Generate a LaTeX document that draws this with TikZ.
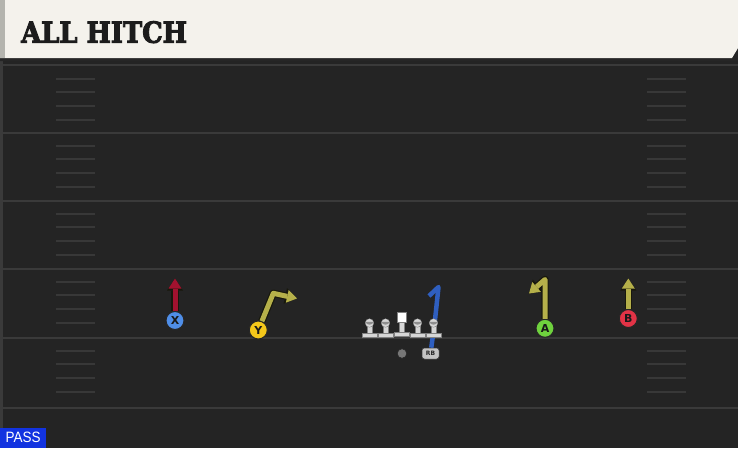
\documentclass[tikz,border=0pt]{standalone}
\usepackage{fontspec}
\usepackage{graphicx}
\setmainfont{DejaVu Sans}
\newfontfamily\titlefont[BoldFeatures={FakeBold=3.5}]{DejaVu Serif}
\newfontfamily\passfont{Liberation Sans}
\usetikzlibrary{arrows.meta}
\definecolor{field}{HTML}{242424}
\definecolor{yardc}{HTML}{3A3A3A}
\definecolor{hashc}{HTML}{383838}
\definecolor{cream}{HTML}{F4F2EC}
\definecolor{stripe}{HTML}{B4B4AE}
\definecolor{titlec}{HTML}{1C1C1C}
\definecolor{passblue}{HTML}{1233E0}
\definecolor{routeout}{HTML}{18180C}
\definecolor{olive}{HTML}{B5B04A}
\definecolor{redroute}{HTML}{A3122F}
\definecolor{blueroute}{HTML}{2F5FC0}
\definecolor{xblue}{HTML}{4F8EE8}
\definecolor{yyellow}{HTML}{F4C71A}
\definecolor{agreen}{HTML}{6FD23E}
\definecolor{bred}{HTML}{E23346}
\definecolor{lmgrey}{HTML}{D6D6D6}
\definecolor{lmdark}{HTML}{8E8E8E}
\definecolor{qbgrey}{HTML}{777777}
\definecolor{rbgrey}{HTML}{C4C4C4}
\pgfdeclarelayer{back}
\pgfdeclarelayer{routes}
\pgfsetlayers{back,routes,main}
\tikzset{
  player/.style={circle, minimum size=18pt, inner sep=0pt, draw=black!85, line width=1pt,
    font=\bfseries\fontsize{11}{11}\selectfont, text=black!90},
  yardline/.style={draw=yardc, line width=2pt},
  hashline/.style={draw=hashc, line width=2pt},
  routeback/.style={draw=routeout, line width=7.4pt, line join=round,
    -{Triangle[length=12pt,width=16pt,line width=0pt]}},
  routefront/.style={line width=5pt, line join=round,
    -{Triangle[length=10pt,width=13pt,line width=0pt]}},
  lmpart/.style={fill=lmgrey, draw=black!50, line width=0.3pt},
  lineman/.pic={
    \path[lmpart] (-7.5,14.5) rectangle (7.5,10);
    \path[lmpart] (-2.8,10.2) rectangle (2.8,3);
    \path[lmpart] (0,0) circle (4.3);
    \fill[lmdark] (-3.9,-1.2) arc (180:360:3.9 and -2.9) -- cycle;
  },
  centerman/.pic={
    \path[lmpart] (-7.5,14.5) rectangle (7.5,10);
    \path[lmpart] (-2.8,10.2) rectangle (2.8,0);
    \path[lmpart, fill=white] (-4.8,-9.5) rectangle (4.8,0);
  }
}
\begin{document}
\begin{tikzpicture}[x=1pt,y=-1pt]
\useasboundingbox (0,0) rectangle (738,448);
\begin{pgfonlayer}{back}
\fill[field] (0,0) rectangle (738,448);
\fill[yardc] (0,58) rectangle (3,448);
\foreach \yy in {65,133,201,269,338,408} \draw[yardline] (0,\yy) -- (738,\yy);
\foreach \yy in {66,133,201,269,338}{
  \foreach \dd in {13,26,40,54}{
    \draw[hashline] (56,\yy+\dd) -- (95,\yy+\dd);
    \draw[hashline] (647,\yy+\dd) -- (686,\yy+\dd);
  }
}
\fill[black!85] (0,57) -- (734,57) -- (738,50) -- (738,61) -- (0,61) -- cycle;
\fill[cream] (0,0) -- (738,0) -- (738,48) -- (732,58) -- (0,58) -- cycle;
\fill[stripe] (0,0) rectangle (5,58);
\end{pgfonlayer}

\node[anchor=base west, inner sep=0pt, text=titlec,
  font=\titlefont\bfseries\fontsize{29}{29}\selectfont] (title) at (21,42.7)
  {\scalebox{0.89}[1]{ALL HITCH}};

\node[anchor=south west, fill=passblue, text=white, minimum width=46pt, minimum height=20pt,
  inner sep=0pt, font=\passfont\fontsize{15}{15}\selectfont] (pass) at (0,448)
  {\scalebox{0.9}[1]{PASS}};

% players
\node[player, fill=xblue] (X) at (175,320.5) {X};
\node[player, fill=yyellow] (Y) at (258.3,330) {Y};
\node[player, fill=agreen] (A) at (545,328.3) {A};
\node[player, fill=bred] (B) at (628.3,318.5) {B};

% route end points
\coordinate (xend) at (175,278.5);
\coordinate (ybend) at (273.3,293.3);
\coordinate (yend) at (297,298.5);
\coordinate (atop) at (545,279.5);
\coordinate (aend) at (529,293.5);
\coordinate (bend) at (628.3,278.5);
\coordinate (rbmid) at (435,320);
\coordinate (rbtop) at (438.5,287);
\coordinate (rbhook) at (429,296);

% offensive line
\pic (lt) at (369.5,323) {lineman};
\pic (lg) at (385.5,323) {lineman};
\pic (c) at (401.5,322) {centerman};
\pic (rg) at (417.5,323) {lineman};
\pic (rt) at (433.5,323) {lineman};

\node[circle, fill=qbgrey, draw=black!85, line width=0.6pt, minimum size=9.5pt, inner sep=0pt] (QB) at (402,353.5) {};
\node[rounded corners=2.5pt, fill=rbgrey, draw=black!75, line width=0.5pt, minimum width=17pt,
  minimum height=11pt, inner sep=0pt, font=\bfseries\fontsize{6}{6}\selectfont, text=black!85] (RB) at (430.5,353.5) {RB};

% routes
\draw[routeback] (X) -- (xend);
\draw[routefront, draw=redroute] (X) -- (xend);
\draw[routeback] (Y) -- (ybend) -- (yend);
\draw[routefront, draw=olive] (Y) -- (ybend) -- (yend);
\draw[routeback] (A) -- (atop) -- (aend);
\draw[routefront, draw=olive] (A) -- (atop) -- (aend);
\draw[routeback] (B) -- (bend);
\draw[routefront, draw=olive] (B) -- (bend);
\begin{pgfonlayer}{routes}
\draw[blueroute, line width=4.5pt, line join=round] (RB) -- (rbmid) -- (rbtop) -- (rbhook);
\end{pgfonlayer}
\end{tikzpicture}
\end{document}
